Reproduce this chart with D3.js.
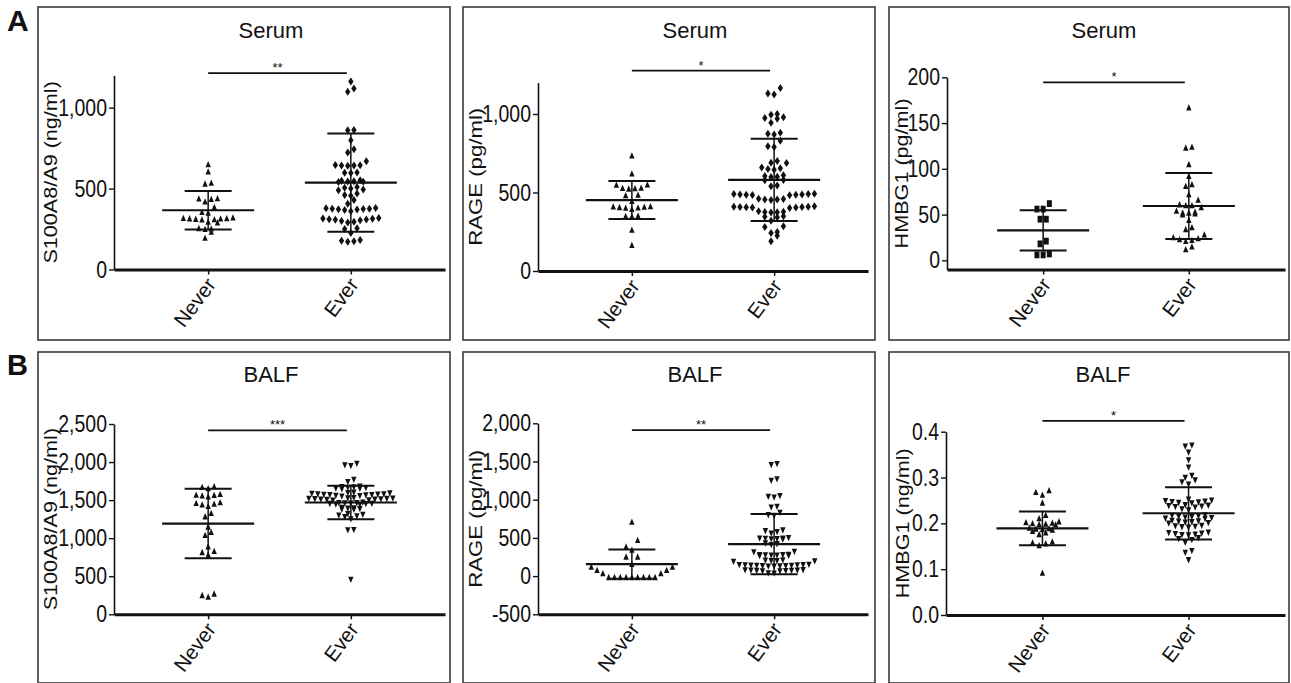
<!DOCTYPE html>
<html>
<head>
<meta charset="utf-8">
<script src="https://cdn.jsdelivr.net/npm/d3@7"></script>
<style>
body { margin: 0; background: #fff; }
text { font-family: "Liberation Sans", Arial, sans-serif; fill: #111; }
</style>
</head>
<body>
<svg id="fig" width="1291" height="683"></svg>
<script>
// values, one entry per panel (A: serum, B: BALF)
const groups = ["Never", "Ever"];
const titles = ["Serum", "Serum", "Serum", "BALF", "BALF", "BALF"];
const yLabels = ["S100A8/A9 (ng/ml)", "RAGE (pg/ml)", "HMBG1 (pg/ml)",
    "S100A8/A9 (ng/ml)", "RAGE (pg/ml)", "HMBG1 (ng/ml)"];
const yDomains = [[0, 1200], [0, 1200], [-10, 200], [0, 2500], [-500, 2000], [0, 0.4]];
const yTicks = [
    [0, 500, 1000],
    [0, 500, 1000],
    [0, 50, 100, 150, 200],
    [0, 500, 1000, 1500, 2000, 2500],
    [-500, 0, 500, 1000, 1500, 2000],
    [0, 0.1, 0.2, 0.3, 0.4]
];
const neverValues = [
    [650, 605, 535, 530, 440, 438, 435, 420, 385, 355, 350, 320, 318, 316, 315, 314, 312, 310, 308, 295, 290, 255, 252, 250, 232, 195],
    [735, 620, 550, 548, 530, 528, 526, 524, 485, 482, 445, 412, 410, 408, 406, 404, 402, 395, 352, 350, 348, 262, 165],
    [62, 56, 56, 45, 45, 21, 18, 7, 6, 6],
    [1680, 1670, 1655, 1580, 1570, 1565, 1560, 1545, 1470, 1460, 1450, 1440, 1420, 1330, 1285, 1150, 1080, 1040, 890, 830, 815, 780, 270, 250, 230],
    [711, 471, 384, 344, 253, 253, 157, 122, 122, 79, 79, 35, 35, -15, -15, -15, -15, -15, -15, -15, -15, -15],
    [0.272, 0.268, 0.262, 0.245, 0.218, 0.211, 0.204, 0.202, 0.201, 0.2, 0.199, 0.198, 0.197, 0.19, 0.189, 0.188, 0.187, 0.186, 0.183, 0.18, 0.176, 0.16, 0.158, 0.156, 0.152, 0.092]
];
const everValues = [
    [1161, 1119, 1099, 862, 860, 799, 743, 723, 669, 645, 644, 643, 642, 641, 600, 598, 596, 552, 548, 546, 544, 542, 540,
        510, 505, 500, 495, 490, 470, 460, 455, 430, 407, 380, 378, 376, 375, 374, 372, 370, 368, 360,
        318, 315, 313, 311, 309, 307, 305, 300, 295, 290, 255, 250, 225, 182, 178, 175, 172],
    [1165, 1130, 1125, 1000, 995, 980, 975, 970, 945, 880, 875, 870, 830, 795, 790, 700, 690, 688, 660, 655, 650, 645,
        610, 605, 600, 598, 580, 578, 545, 540, 492, 490, 490, 488, 488, 486, 485, 484, 482, 460, 458, 456, 455, 452,
        412, 410, 410, 408, 408, 406, 405, 404, 402, 380, 378, 376, 374, 372, 348, 345, 342, 320, 285, 280, 248, 242, 225, 190],
    [167, 124, 123, 105, 92, 83, 81, 72, 66, 61, 60, 60, 58, 54, 53, 52, 52, 51, 50, 44, 36, 34, 28, 25, 24, 23, 22, 21, 15, 12],
    [1980, 1960, 1950, 1770, 1740, 1680, 1675, 1670, 1665, 1660, 1655, 1650, 1645,
        1600, 1595, 1590, 1585, 1580, 1578, 1575, 1572, 1570, 1568, 1565, 1560, 1555, 1550,
        1530, 1525, 1522, 1520, 1518, 1515, 1512, 1510, 1508, 1505, 1500, 1495,
        1470, 1465, 1462, 1460, 1458, 1455, 1452, 1450, 1445, 1440,
        1400, 1395, 1390, 1385, 1380, 1375, 1320, 1310, 1300, 1290, 1280, 1250, 1110, 1105, 455],
    [1470, 1455, 1270, 1250, 1050, 1040, 1030, 910, 900, 830, 800, 790, 600, 590, 580, 560,
        500, 495, 493, 490, 488, 485, 480, 430, 420, 410, 320, 315, 280, 278, 276, 274, 272, 270, 268, 265,
        210, 205, 200, 198, 195, 190, 150, 148, 146, 144, 142, 140, 138, 136, 134, 132, 130, 128, 126,
        80, 78, 76, 74, 72, 70, 68, 66, 64, 40, 35],
    [0.37, 0.368, 0.355, 0.338, 0.322, 0.304, 0.3, 0.294, 0.29, 0.285, 0.252, 0.25, 0.249, 0.248, 0.247, 0.246, 0.245, 0.244,
        0.24, 0.239, 0.238, 0.237, 0.236, 0.235, 0.231, 0.229, 0.218, 0.217, 0.216, 0.215, 0.214, 0.213, 0.212, 0.211, 0.21,
        0.206, 0.205, 0.204, 0.203, 0.202, 0.201, 0.2, 0.195, 0.194, 0.193, 0.192, 0.191, 0.18, 0.179, 0.178, 0.177, 0.176,
        0.175, 0.174, 0.168, 0.166, 0.164, 0.158, 0.14, 0.136, 0.12]
];
const means = [[366, 537], [452, 580], [32.8, 59.4], [1192, 1469], [157, 419], [0.189, 0.222]];
const sds = [[119, 303], [121, 262], [22, 36], [456, 220], [192, 395], [0.037, 0.057]];
const stars = ["**", "*", "*", "***", "**", "*"];
const starLevels = [1214, 1276, 194.4, 2416, 1911, 0.4236];

// layout of the six boxes (H = row height of the scatter, one per group)
const layout = [
    { frame: [38, 7, 412, 333], ax: 114, xEnd: 445, y0: 269.5, y1: 75.3, titleY: 38, labDx: 63, labFs: 18, shapes: ["up", "diamond"], H: [7, 7], s: 6.2 },
    { frame: [463, 7, 412, 333], ax: 538, xEnd: 868, y0: 271, y1: 82.6, titleY: 38, labDx: 63, labFs: 18.5, shapes: ["up", "diamond"], H: [7, 7], s: 6.2 },
    { frame: [889, 7, 400, 333], ax: 947, xEnd: 1285, y0: 269.5, y1: 77.3, titleY: 38, labDx: 45, labFs: 18, shapes: ["square", "up"], H: [7, 7], s: 6.2 },
    { frame: [38, 352, 412, 331], ax: 114, xEnd: 445, y0: 614.3, y1: 424, titleY: 382, labDx: 63, labFs: 18, shapes: ["up", "down"], H: [5, 5], s: 6 },
    { frame: [463, 352, 412, 331], ax: 538, xEnd: 868, y0: 614.3, y1: 423.3, titleY: 382, labDx: 63, labFs: 18.5, shapes: ["up", "down"], H: [11, 5.5], s: 5.8 },
    { frame: [889, 352, 400, 331], ax: 946, xEnd: 1285, y0: 615, y1: 431.7, titleY: 382, labDx: 43, labFs: 18, shapes: ["up", "down"], H: [5, 5], s: 6.6 }
];
const stretch = 1.2;   // the source image is stretched vertically

const symbolPaths = {
    up: "M0,-3.4L2.7,2.9L-2.7,2.9Z",
    down: "M0,3.4L2.7,-2.9L-2.7,-2.9Z",
    diamond: "M0,-4L2.7,0L0,4L-2.7,0Z",
    square: "M-2.5,-3.4H2.5V3.4H-2.5Z"
};

const svg = d3.select("#fig");

// scatter layout: rows built from the bottom, lowest values sit in the middle of a row
function swarm(vals, y, cx, H, s) {
    var sorted = vals.slice().sort(function (a, b) { return a - b; });
    var rows = [], cur = null;
    sorted.forEach(function (v) {
        var py = y(v);
        if (cur && cur.base - py < H) cur.items.push(v);
        else { cur = { base: py, items: [v] }; rows.push(cur); }
    });
    var pts = [];
    rows.forEach(function (r) {
        var n = r.items.length;
        var slots = d3.range(n).map(function (j) { return (j - (n - 1) / 2) * s; });
        slots.sort(function (a, b) { return Math.abs(a) - Math.abs(b) || a - b; });
        r.items.forEach(function (v, i) { pts.push({ x: cx + slots[i], y: y(v) }); });
    });
    return pts;
}

function fmtTick(p) {
    return p == 5 ? d3.format(".1f") : function (d) { return d3.format(",")(d).replace("\u2212", "-"); };
}

layout.forEach(function (L, p) {
    var g = svg.append("g");
    g.append("rect")
        .attr("x", L.frame[0]).attr("y", L.frame[1])
        .attr("width", L.frame[2]).attr("height", L.frame[3])
        .attr("fill", "none").attr("stroke", "#3a3a3a").attr("stroke-width", 1.6);

    var y = d3.scaleLinear().domain(yDomains[p]).range([L.y0, L.y1]);
    var x = d3.scalePoint().domain(groups).range([L.ax, L.xEnd]).padding(0.66);

    g.append("text")
        .attr("x", L.ax + 157).attr("y", L.titleY)
        .attr("text-anchor", "middle").style("font-size", "22px")
        .text(titles[p]);

    // y axis
    var yAxis = d3.axisLeft(y).tickValues(yTicks[p]).tickSize(5).tickSizeOuter(0).tickPadding(2).tickFormat(fmtTick(p));
    var ya = g.append("g").attr("transform", "translate(" + L.ax + ",0)").call(yAxis);
    ya.select(".domain").attr("stroke", "#111").attr("stroke-width", 1.6);
    ya.selectAll(".tick line").attr("stroke", "#111").attr("stroke-width", 1.4);
    ya.selectAll(".tick text")
        .attr("transform", "scale(1," + stretch + ")")
        .style("font-size", "19.5px").style("font-family", "Liberation Sans, Arial, sans-serif").attr("fill", "#111");

    g.append("text")
        .attr("transform", "translate(" + (L.ax - L.labDx) + "," + ((L.y0 + L.y1) / 2) + ") rotate(-90) scale(" + stretch + ",1)")
        .attr("text-anchor", "middle").attr("dy", "0.36em")
        .style("font-size", L.labFs + "px")
        .text(yLabels[p]);

    // x axis
    var xAxis = d3.axisBottom(x).tickSize(5).tickSizeOuter(0).tickFormat("");
    var xa = g.append("g").attr("transform", "translate(0," + L.y0 + ")").call(xAxis);
    xa.select(".domain").attr("stroke", "#111").attr("stroke-width", 3);
    xa.selectAll(".tick line").attr("stroke", "#111").attr("stroke-width", 1.5);

    g.selectAll(".cat")
        .data(groups)
        .enter().append("text")
        .attr("transform", function (d) {
            return "translate(" + (x(d) + 3) + "," + (L.y0 + 11) + ") rotate(-53)";
        })
        .attr("text-anchor", "end").attr("dy", "0.35em")
        .style("font-size", "20.5px")
        .text(function (d) { return d; });

    // points
    [neverValues[p], everValues[p]].forEach(function (vals, k) {
        var pts = swarm(vals, y, x(groups[k]), L.H[k], L.s);
        g.append("g").selectAll("path")
            .data(pts)
            .enter().append("path")
            .attr("d", symbolPaths[L.shapes[k]])
            .attr("transform", function (d) { return "translate(" + d.x + "," + d.y + ")"; })
            .attr("fill", "#111");
    });

    // mean and SD bars
    groups.forEach(function (grp, k) {
        var cx = x(grp), m = means[p][k], sd = sds[p][k];
        var bars = g.append("g").attr("stroke", "#111");
        bars.append("line").attr("x1", cx).attr("x2", cx)
            .attr("y1", y(m - sd)).attr("y2", y(m + sd)).attr("stroke-width", 1.5);
        bars.append("line").attr("x1", cx - 46).attr("x2", cx + 46)
            .attr("y1", y(m)).attr("y2", y(m)).attr("stroke-width", 2.2);
        [m - sd, m + sd].forEach(function (v) {
            bars.append("line").attr("x1", cx - 23.5).attr("x2", cx + 23.5)
                .attr("y1", y(v)).attr("y2", y(v)).attr("stroke-width", 2);
        });
    });

    // significance bracket
    var by = y(starLevels[p]);
    g.append("line")
        .attr("x1", x("Never")).attr("x2", x("Ever") - 4)
        .attr("y1", by).attr("y2", by)
        .attr("stroke", "#111").attr("stroke-width", 1.8);
    g.append("text")
        .attr("x", (x("Never") + x("Ever") - 4) / 2).attr("y", by - 1)
        .attr("text-anchor", "middle").style("font-size", "13px")
        .text(stars[p]);
});

svg.append("text").attr("x", 7).attr("y", 31).style("font-size", "30px").style("font-weight", "bold").text("A");
svg.append("text").attr("x", 7).attr("y", 375).style("font-size", "29px").style("font-weight", "bold").text("B");
</script>
</body>
</html>
